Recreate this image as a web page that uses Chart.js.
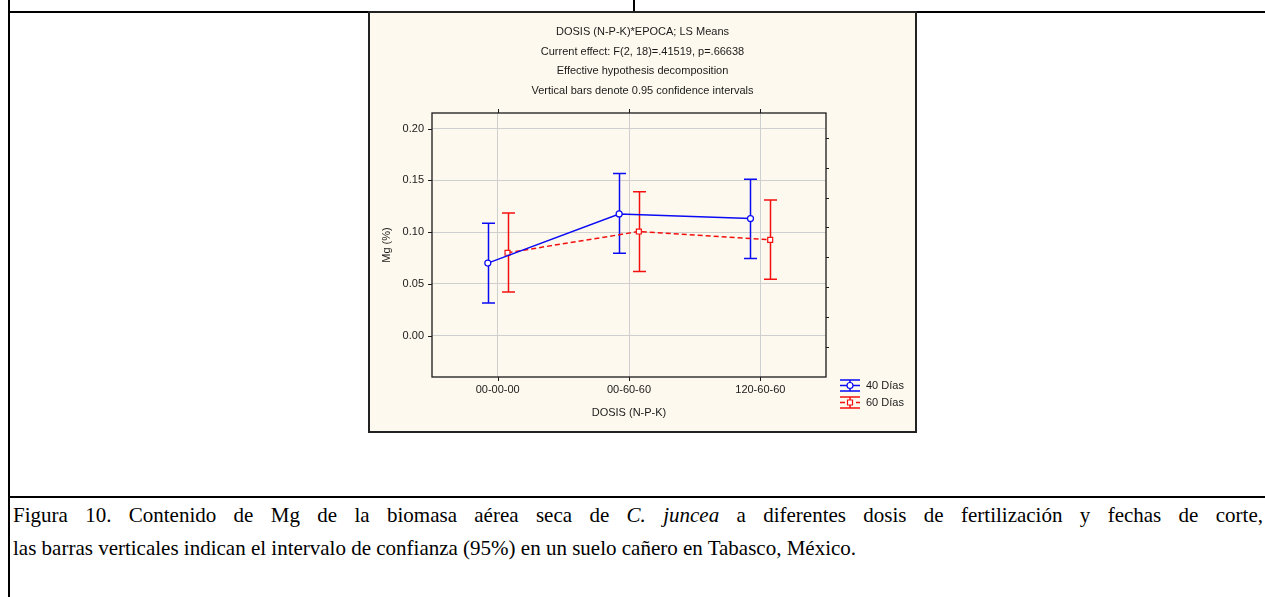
<!DOCTYPE html>
<html><head><meta charset="utf-8">
<script src="https://cdn.jsdelivr.net/npm/chart.js@4/dist/chart.umd.min.js"></script>
<style>
html,body{margin:0;padding:0;background:#fff;}
body{width:1265px;height:597px;overflow:hidden;position:relative;}
.ln{position:absolute;background:#000;}
#box{position:absolute;left:368px;top:11px;width:545px;height:418px;border:2px solid #222;background:#fdf9ee;}
#box canvas{display:block;}
.cap{position:absolute;left:13px;font-family:"Liberation Serif","Times New Roman",serif;font-size:21px;white-space:nowrap;color:#000;line-height:1;}
.just{width:1250px;white-space:normal;text-align:justify;text-align-last:justify;}
</style></head>
<body>
<div class="ln" style="left:8px;top:0;width:2px;height:597px"></div>
<div class="ln" style="left:633px;top:0;width:2px;height:12px"></div>
<div class="ln" style="left:8px;top:11px;width:1257px;height:2px"></div>
<div id="box"><canvas id="c" width="545" height="418"></canvas></div>
<div class="ln" style="left:8px;top:496px;width:1257px;height:2px"></div>
<div class="cap just" style="top:505px">Figura 10. Contenido de Mg de la biomasa aérea seca de <i>C. juncea</i> a diferentes dosis de fertilización y fechas de corte,</div>
<div class="cap" style="top:538px">las barras verticales indican el intervalo de confianza (95%) en un suelo cañero en Tabasco, México.</div>
<script>
// ---- data ----
const categories = ['00-00-00', '00-60-60', '120-60-60'];
const seriesNames = ['40 Días', '60 Días'];
const mean40  = [0.070, 0.1175, 0.113];
const lower40 = [0.0315, 0.0795, 0.0745];
const upper40 = [0.1085, 0.1565, 0.151];
const mean60  = [0.080, 0.1005, 0.0925];
const lower60 = [0.042, 0.062, 0.0545];
const upper60 = [0.1185, 0.139, 0.131];
const yTickValues = [0.00, 0.05, 0.10, 0.15, 0.20];
const rightTickValues = [0.191, 0.162, 0.133, 0.105, 0.076, 0.047, 0.018, -0.011];
const titleLines = [
  'DOSIS (N-P-K)*EPOCA; LS Means',
  'Current effect: F(2, 18)=.41519, p=.66638',
  'Effective hypothesis decomposition',
  'Vertical bars denote 0.95 confidence intervals'
];

// ---- style ----
const BLUE = '#0a0af5';
const RED = '#f51010';
const GRID = '#cfcfcf';
const TXT = '#1a1a1a';
const FONT = {family: '"Liberation Sans", Arial, sans-serif', size: 11};
const dodge = 0.075;

const ds = [
  {label: seriesNames[0], mean: mean40, lower: lower40, upper: upper40, color: BLUE, dash: [], style: 'circle', off: -dodge},
  {label: seriesNames[1], mean: mean60, lower: lower60, upper: upper60, color: RED, dash: [5, 3], style: 'rect', off: dodge}
];

const decor = {
  id: 'decor',
  beforeDatasetsDraw(chart) {
    const ctx = chart.ctx, xs = chart.scales.x, ys = chart.scales.y;
    ctx.save();
    chart.data.datasets.forEach(d => {
      ctx.strokeStyle = d.borderColor; ctx.lineWidth = 1.5; ctx.setLineDash([]);
      d.data.forEach((p, i) => {
        const x = Math.round(xs.getPixelForValue(p.x)) + 0.5;
        const yl = ys.getPixelForValue(d.lowerVals[i]);
        const yu = ys.getPixelForValue(d.upperVals[i]);
        ctx.beginPath();
        ctx.moveTo(x, yu); ctx.lineTo(x, yl);
        ctx.moveTo(x - 6.5, yu); ctx.lineTo(x + 6.5, yu);
        ctx.moveTo(x - 6.5, yl); ctx.lineTo(x + 6.5, yl);
        ctx.stroke();
      });
    });
    ctx.restore();
  },
  afterDraw(chart) {
    const ctx = chart.ctx, a = chart.chartArea, xs = chart.scales.x, ys = chart.scales.y;
    ctx.save();
    // frame
    ctx.strokeStyle = '#1a1a1a'; ctx.lineWidth = 1.3; ctx.setLineDash([]);
    ctx.strokeRect(a.left, a.top, a.right - a.left, a.bottom - a.top);
    ctx.lineWidth = 1;
    ctx.beginPath();
    yTickValues.forEach(v => { const y = Math.round(ys.getPixelForValue(v)) + 0.5; ctx.moveTo(a.left - 4, y); ctx.lineTo(a.left, y); });
    categories.forEach((c, i) => {
      const x = Math.round(xs.getPixelForValue(i)) + 0.5;
      ctx.moveTo(x, a.bottom); ctx.lineTo(x, a.bottom + 4);
      ctx.moveTo(x, a.top); ctx.lineTo(x, a.top - 4);
    });
    rightTickValues.forEach(v => { const y = Math.round(ys.getPixelForValue(v)) + 0.5; ctx.moveTo(a.right, y); ctx.lineTo(a.right + 3, y); });
    ctx.stroke();
    // title
    ctx.fillStyle = TXT; ctx.font = '11px "Liberation Sans", Arial, sans-serif';
    ctx.textAlign = 'center'; ctx.textBaseline = 'middle';
    titleLines.forEach((t, i) => ctx.fillText(t, chart.width / 2, 19 + i * 19.5));
    // legend
    ds.forEach((d, i) => {
      const x0 = a.right + 14, x1 = x0 + 20, xm = (x0 + x1) / 2;
      const ym = a.bottom + 8.5 + i * 17;
      ctx.strokeStyle = d.color; ctx.lineWidth = 1.5;
      ctx.setLineDash([]);
      ctx.beginPath();
      ctx.moveTo(x0, ym - 5.5); ctx.lineTo(x1, ym - 5.5);
      ctx.moveTo(x0, ym + 5.5); ctx.lineTo(x1, ym + 5.5);
      ctx.moveTo(xm, ym - 5.5); ctx.lineTo(xm, ym + 5.5);
      ctx.stroke();
      ctx.setLineDash(d.dash);
      ctx.beginPath(); ctx.moveTo(x0, ym); ctx.lineTo(x1, ym); ctx.stroke();
      ctx.setLineDash([]);
      ctx.fillStyle = '#fff'; ctx.lineWidth = 1.2;
      ctx.beginPath();
      if (d.style === 'circle') ctx.arc(xm, ym, 3, 0, Math.PI * 2);
      else ctx.rect(xm - 2.5, ym - 2.5, 5, 5);
      ctx.fill(); ctx.stroke();
      ctx.fillStyle = TXT; ctx.textAlign = 'left'; ctx.textBaseline = 'middle';
      ctx.font = '11px "Liberation Sans", Arial, sans-serif';
      ctx.fillText(d.label, x1 + 6, ym);
    });
    ctx.restore();
  }
};

new Chart(document.getElementById('c'), {
  type: 'line',
  data: {
    datasets: ds.map(d => ({
      label: d.label,
      data: d.mean.map((v, i) => ({x: i + d.off, y: v})),
      lowerVals: d.lower, upperVals: d.upper,
      borderColor: d.color, backgroundColor: '#fff',
      borderWidth: 1.5, borderDash: d.dash, tension: 0,
      pointStyle: d.style, pointRadius: d.style === 'rect' ? 3.5 : 3,
      pointBorderWidth: 1.2, pointBackgroundColor: '#fff', pointBorderColor: d.color
    }))
  },
  options: {
    responsive: false, animation: false, devicePixelRatio: 1,
    layout: {padding: {left: 0, right: 89, top: 100, bottom: 0}},
    plugins: {legend: {display: false}, tooltip: {enabled: false}, title: {display: false}},
    scales: {
      x: {
        type: 'linear', min: -0.5, max: 2.5,
        afterBuildTicks: s => { s.ticks = categories.map((c, i) => ({value: i})); },
        afterFit: s => { s.height = 54; },
        ticks: {callback: v => categories[v], font: FONT, color: TXT, padding: 6, maxRotation: 0, autoSkip: false},
        grid: {color: GRID, drawTicks: false, lineWidth: 1},
        border: {display: false},
        title: {display: true, text: 'DOSIS (N-P-K)', font: FONT, color: TXT, padding: {top: 0, bottom: 11}}
      },
      y: {
        min: -0.04, max: 0.215,
        afterBuildTicks: s => { s.ticks = yTickValues.map(v => ({value: v})); },
        afterFit: s => { s.width = 62; },
        ticks: {callback: v => v.toFixed(2), font: FONT, color: TXT, padding: 8},
        grid: {color: GRID, drawTicks: false, lineWidth: 1},
        border: {display: false},
        title: {display: true, text: 'Mg (%)', font: FONT, color: TXT, padding: {top: 10, bottom: 0}}
      }
    }
  },
  plugins: [decor]
});
</script>
</body></html>
